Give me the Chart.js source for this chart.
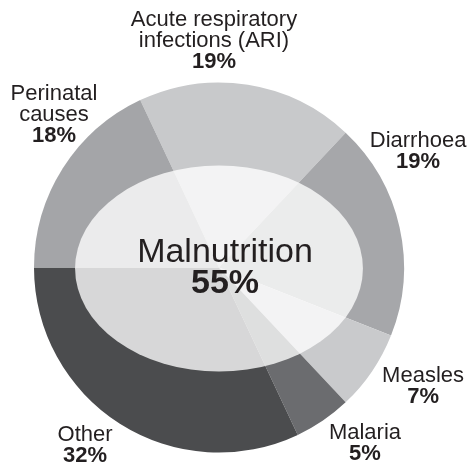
<!DOCTYPE html>
<html>
<head>
<meta charset="utf-8">
<script src="https://cdn.jsdelivr.net/npm/chart.js@4"></script>
<style>
  html, body { margin: 0; padding: 0; background: #fff; }
  canvas { display: block; }
</style>
</head>
<body>
<canvas id="causes" width="472" height="468"></canvas>
<script>
const categories = ['Acute respiratory infections (ARI)', 'Diarrhoea', 'Measles', 'Malaria', 'Other', 'Perinatal causes'];
const shares = [19, 19, 7, 5, 32, 18];
const labelLines = [
  ['Acute respiratory', 'infections (ARI)'],
  ['Diarrhoea'],
  ['Measles'],
  ['Malaria'],
  ['Other'],
  ['Perinatal', 'causes']
];
const overlayName = 'Malnutrition';
const overlayShare = 55;

const sliceColors = ['#c8c9cb', '#a6a7aa', '#c9cacc', '#6b6c6f', '#4b4c4e', '#a4a5a8'];
// label block centres, in units of the outer radius, from the pie centre
const labelOffsets = [
  [-0.027, -1.227],
  [1.076, -0.627],
  [1.103, 0.643],
  [0.789, 0.951],
  [-0.724, 0.962],
  [-0.892, -0.827]
];

// "Other" ends at 9 o'clock
const beforePerinatal = shares.slice(0, 5).reduce((a, b) => a + b, 0);
const startAngle = 270 - beforePerinatal * 3.6;

const ink = '#231f20';

const overlay = {
  id: 'overlay',
  afterDatasetsDraw(chart) {
    const arc = chart.getDatasetMeta(0).data[0];
    const cx = arc.x, cy = arc.y, R = arc.outerRadius;
    const ctx = chart.ctx;
    ctx.save();
    // malnutrition ellipse
    ctx.beginPath();
    ctx.ellipse(cx, cy + 1, R * 0.778, R * 0.557, 0, 0, Math.PI * 2);
    ctx.fillStyle = 'rgba(255,255,255,0.78)';
    ctx.fill();

    ctx.fillStyle = ink;
    ctx.textAlign = 'center';
    ctx.textBaseline = 'middle';
    ctx.font = '34px "Liberation Sans", Arial, sans-serif';
    ctx.fillText(overlayName, cx + 6, cy - 15);
    ctx.font = 'bold 34px "Liberation Sans", Arial, sans-serif';
    ctx.fillText(overlayShare + '%', cx + 6, cy + 16);

    // outside labels
    const lh = 21;
    shares.forEach((v, i) => {
      const lines = labelLines[i].concat([v + '%']);
      const bx = cx + labelOffsets[i][0] * R;
      const by = cy + labelOffsets[i][1] * R;
      const top = by - (lines.length - 1) * lh / 2;
      lines.forEach((t, j) => {
        const last = j === lines.length - 1;
        ctx.font = (last ? 'bold ' : '') + '22px "Liberation Sans", Arial, sans-serif';
        ctx.fillText(t, bx, top + j * lh);
      });
    });
    ctx.restore();
  }
};

new Chart(document.getElementById('causes'), {
  type: 'pie',
  data: {
    labels: categories,
    datasets: [{
      data: shares,
      backgroundColor: sliceColors,
      borderWidth: 0
    }]
  },
  options: {
    responsive: false,
    animation: false,
    rotation: startAngle,
    layout: { padding: { left: 34, right: 68, top: 82, bottom: 15 } },
    plugins: {
      legend: { display: false },
      tooltip: { enabled: false }
    }
  },
  plugins: [overlay]
});
</script>
</body>
</html>
